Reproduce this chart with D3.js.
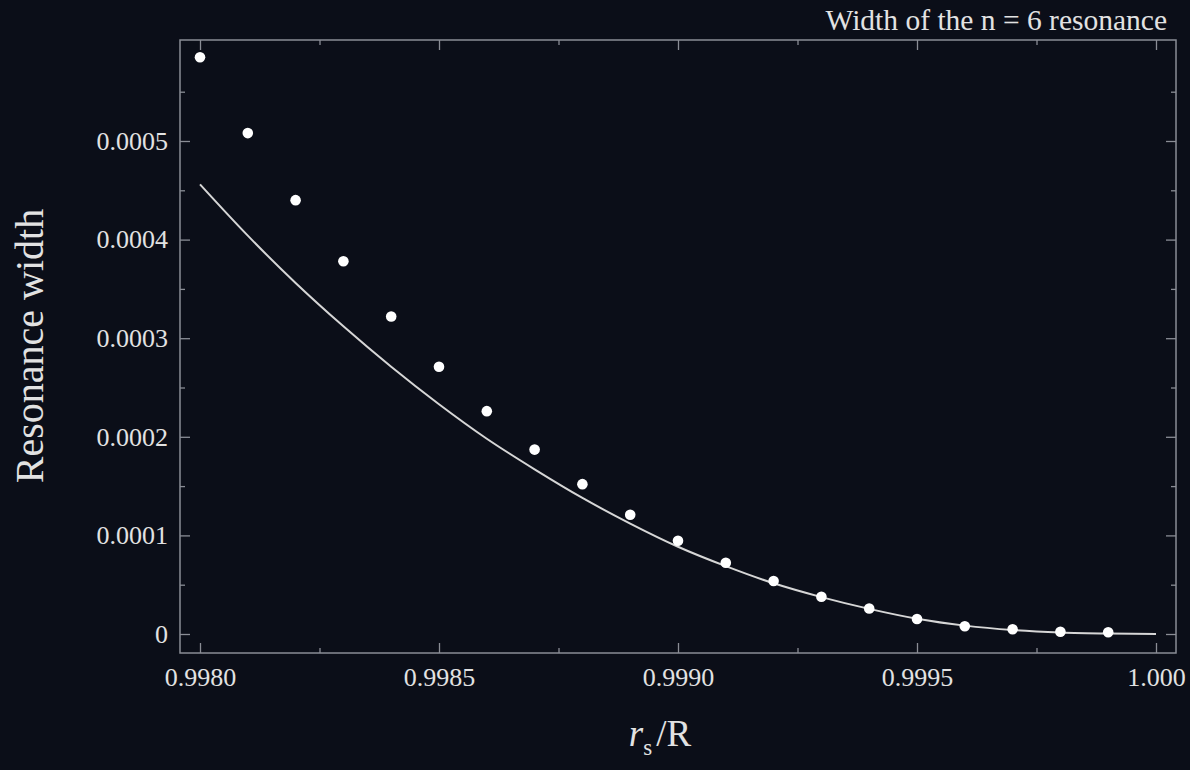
<!DOCTYPE html>
<html>
<head>
<meta charset="utf-8">
<script src="https://cdn.jsdelivr.net/npm/d3@7"></script>
<style>
  html, body { margin: 0; padding: 0; background: #0b0e18; }
  svg text { font-family: "Liberation Serif", "Times New Roman", serif; fill: #e2e2e2; }
</style>
</head>
<body>
<svg id="chart" width="1190" height="770"></svg>
<script>
// numerical widths (dots)
const dotX = [0.9980, 0.9981, 0.9982, 0.9983, 0.9984, 0.9985, 0.9986, 0.9987, 0.9988, 0.9989,
  0.9990, 0.9991, 0.9992, 0.9993, 0.9994, 0.9995, 0.9996, 0.9997, 0.9998, 0.9999]
const dotY = [0.000585, 0.000508, 0.000440, 0.000378, 0.000322, 0.000271, 0.000226, 0.000187, 0.000152, 0.000121,
  0.0000946, 0.0000723, 0.0000537, 0.0000378, 0.0000258, 0.0000152, 0.0000078, 0.0000048, 0.0000023, 0.0000018]

// analytic curve
const curveX = [0.9980, 0.9981, 0.9982, 0.9983, 0.9984, 0.9985, 0.9986, 0.9987, 0.9988, 0.9989, 0.9990,
  0.9991, 0.9992, 0.9993, 0.9994, 0.9995, 0.9996, 0.9997, 0.9998, 0.9999, 1.0000]
const curveY = [0.000456, 0.000404, 0.000356, 0.000312, 0.000271, 0.000233, 0.000198, 0.000167, 0.000138, 0.000112, 0.0000885,
  0.0000688, 0.0000514, 0.0000374, 0.0000255, 0.0000155, 0.0000085, 0.000004, 0.0000015, 0.0000004, 0]

const xTicks = [0.998, 0.9985, 0.999, 0.9995, 1.0]
const xTickLabels = ['0.9980', '0.9985', '0.9990', '0.9995', '1.000']
const xMinor = [0.99825, 0.99875, 0.99925, 0.99975]
const yTicks = [0, 0.0001, 0.0002, 0.0003, 0.0004, 0.0005]
const yTickLabels = ['0', '0.0001', '0.0002', '0.0003', '0.0004', '0.0005']
const yMinor = [0.00005, 0.00015, 0.00025, 0.00035, 0.00045, 0.00055]

const svg = d3.select('#chart')
const frameColor = '#8a8d95'

// scales: tick positions, frame is padded 20px / 19px around them
let x = d3.scaleLinear().domain([0.998, 1.0]).range([200, 1156])
let y = d3.scaleLinear().domain([0, 0.0005]).range([634, 141])
const frameL = 180, frameR = 1176, frameT = 40, frameB = 653

svg.append('rect')
  .attr('width', 1190).attr('height', 770)
  .attr('fill', '#0b0e18')

// frame
svg.append('rect')
  .attr('x', frameL).attr('y', frameT)
  .attr('width', frameR - frameL).attr('height', frameB - frameT)
  .attr('fill', 'none')
  .attr('stroke', frameColor)
  .attr('stroke-width', 1.5)

function styleAxis(g) {
  g.select('.domain').remove()
  g.selectAll('.tick line').attr('stroke', frameColor).attr('stroke-width', 1.3)
  g.selectAll('.tick text').attr('fill', '#e2e2e2').style('font-size', '26px')
}

// bottom
svg.append('g')
  .attr('transform', `translate(0,${frameB})`)
  .call(d3.axisBottom(x).tickValues(xTicks).tickSize(-10).tickPadding(15)
    .tickFormat((d, i) => xTickLabels[i]))
  .call(styleAxis)
svg.append('g')
  .attr('transform', `translate(0,${frameB})`)
  .call(d3.axisBottom(x).tickValues(xMinor).tickSize(-5).tickFormat(''))
  .call(styleAxis)

// top
svg.append('g')
  .attr('transform', `translate(0,${frameT})`)
  .call(d3.axisTop(x).tickValues(xTicks).tickSize(-10).tickFormat(''))
  .call(styleAxis)
svg.append('g')
  .attr('transform', `translate(0,${frameT})`)
  .call(d3.axisTop(x).tickValues(xMinor).tickSize(-5).tickFormat(''))
  .call(styleAxis)

// left
svg.append('g')
  .attr('transform', `translate(${frameL},0)`)
  .call(d3.axisLeft(y).tickValues(yTicks).tickSize(-10).tickPadding(12)
    .tickFormat((d, i) => yTickLabels[i]))
  .call(styleAxis)
svg.append('g')
  .attr('transform', `translate(${frameL},0)`)
  .call(d3.axisLeft(y).tickValues(yMinor).tickSize(-5).tickFormat(''))
  .call(styleAxis)

// right
svg.append('g')
  .attr('transform', `translate(${frameR},0)`)
  .call(d3.axisRight(y).tickValues(yTicks).tickSize(-10).tickFormat(''))
  .call(styleAxis)
svg.append('g')
  .attr('transform', `translate(${frameR},0)`)
  .call(d3.axisRight(y).tickValues(yMinor).tickSize(-5).tickFormat(''))
  .call(styleAxis)

// curve
let curveData = curveX.map((v, i) => ({ xVal: v, yVal: curveY[i] }))
svg.append('path')
  .datum(curveData)
  .attr('d', d3.line()
    .x((d) => { return x(d.xVal) })
    .y((d) => { return y(d.yVal) })
    .curve(d3.curveMonotoneX))
  .attr('fill', 'none')
  .attr('stroke', '#d6d6d6')
  .attr('stroke-width', 2)

// dots
let dotData = dotX.map((v, i) => ({ xVal: v, yVal: dotY[i] }))
svg.selectAll('.dot')
  .data(dotData)
  .enter()
  .append('circle')
  .attr('class', 'dot')
  .attr('cx', (d) => { return x(d.xVal) })
  .attr('cy', (d) => { return y(d.yVal) })
  .attr('r', 5.3)
  .attr('fill', '#ffffff')

// title
svg.append('text')
  .attr('x', 1167).attr('y', 30)
  .attr('text-anchor', 'end')
  .style('font-size', '29.5px')
  .text('Width of the n = 6 resonance')

// y label
svg.append('text')
  .attr('transform', 'translate(43,346) rotate(-90)')
  .attr('text-anchor', 'middle')
  .style('font-size', '40px')
  .text('Resonance width')

// x label
let xl = svg.append('text')
  .attr('x', 660).attr('y', 746)
  .attr('text-anchor', 'middle')
  .style('font-size', '37px')
xl.append('tspan').style('font-style', 'italic').text('r')
xl.append('tspan').attr('dy', 9).style('font-size', '23px').text('s')
xl.append('tspan').attr('dx', 4).attr('dy', -9).text('/R')
</script>
</body>
</html>
